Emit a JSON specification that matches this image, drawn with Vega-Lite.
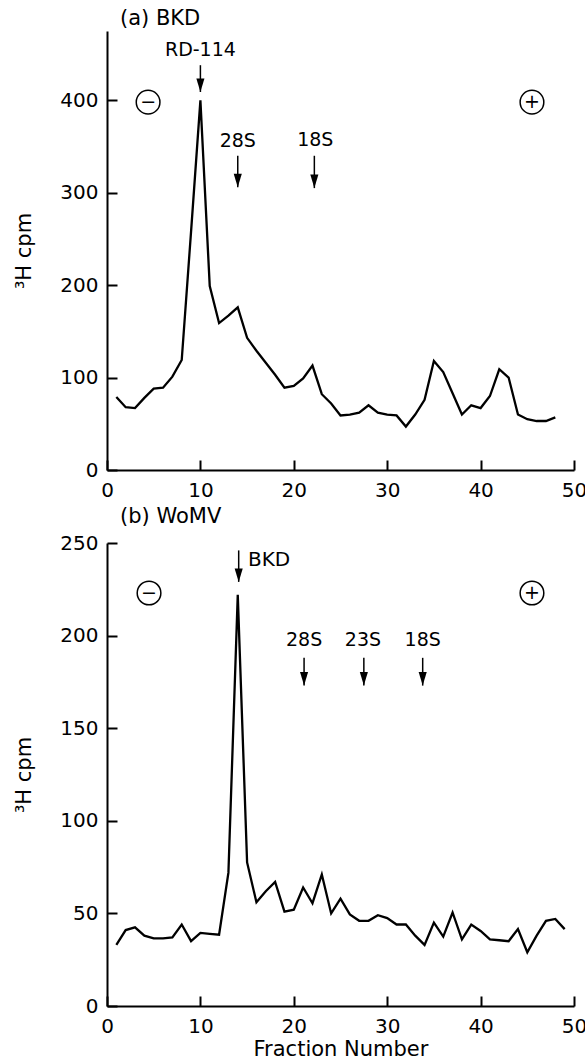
{
  "$schema": "https://vega.github.io/schema/vega-lite/v6.json",
  "background": "white",
  "padding": {"left": 13, "top": 8, "right": 0, "bottom": 0},
  "spacing": 6,
  "config": {
    "view": {"stroke": null},
    "font": "DejaVu Sans",
    "axis": {
      "grid": false,
      "domainColor": "black",
      "domainWidth": 2,
      "tickColor": "black",
      "tickWidth": 2,
      "labelFlush": false,
      "labelFont": "DejaVu Sans",
      "labelFontSize": 20,
      "labelColor": "black",
      "titleFont": "DejaVu Sans",
      "titleFontSize": 21,
      "titleFontWeight": "normal",
      "titleColor": "black"
    },
    "title": {"font": "DejaVu Sans", "fontSize": 21, "fontWeight": "normal", "color": "black", "anchor": "start", "frame": "group"}
  },
  "datasets": {
    "a_line": [
      {"frac": 1, "cpm": 79}, {"frac": 2, "cpm": 68}, {"frac": 3, "cpm": 67}, {"frac": 4, "cpm": 78},
      {"frac": 5, "cpm": 88}, {"frac": 6, "cpm": 89}, {"frac": 7, "cpm": 101}, {"frac": 8, "cpm": 119},
      {"frac": 9, "cpm": 258}, {"frac": 10, "cpm": 400}, {"frac": 11, "cpm": 199}, {"frac": 12, "cpm": 159},
      {"frac": 13, "cpm": 167}, {"frac": 14, "cpm": 176}, {"frac": 15, "cpm": 143}, {"frac": 16, "cpm": 129},
      {"frac": 17, "cpm": 116}, {"frac": 18, "cpm": 103}, {"frac": 19, "cpm": 89}, {"frac": 20, "cpm": 91},
      {"frac": 21, "cpm": 99}, {"frac": 22, "cpm": 113}, {"frac": 23, "cpm": 82}, {"frac": 24, "cpm": 72},
      {"frac": 25, "cpm": 59}, {"frac": 26, "cpm": 60}, {"frac": 27, "cpm": 62}, {"frac": 28, "cpm": 70},
      {"frac": 29, "cpm": 62}, {"frac": 30, "cpm": 60}, {"frac": 31, "cpm": 59}, {"frac": 32, "cpm": 47},
      {"frac": 33, "cpm": 60}, {"frac": 34, "cpm": 76}, {"frac": 35, "cpm": 118}, {"frac": 36, "cpm": 106},
      {"frac": 37, "cpm": 83}, {"frac": 38, "cpm": 60}, {"frac": 39, "cpm": 70}, {"frac": 40, "cpm": 67},
      {"frac": 41, "cpm": 80}, {"frac": 42, "cpm": 109}, {"frac": 43, "cpm": 100}, {"frac": 44, "cpm": 60},
      {"frac": 45, "cpm": 55}, {"frac": 46, "cpm": 53}, {"frac": 47, "cpm": 53}, {"frac": 48, "cpm": 57}
    ],
    "b_line": [
      {"frac": 1, "cpm": 33}, {"frac": 2, "cpm": 41}, {"frac": 3, "cpm": 42.5}, {"frac": 4, "cpm": 38},
      {"frac": 5, "cpm": 36.5}, {"frac": 6, "cpm": 36.5}, {"frac": 7, "cpm": 37}, {"frac": 8, "cpm": 44},
      {"frac": 9, "cpm": 35}, {"frac": 10, "cpm": 39.5}, {"frac": 11, "cpm": 39}, {"frac": 12, "cpm": 38.5},
      {"frac": 13, "cpm": 72}, {"frac": 14, "cpm": 222}, {"frac": 15, "cpm": 77.5}, {"frac": 16, "cpm": 56},
      {"frac": 17, "cpm": 62}, {"frac": 18, "cpm": 67}, {"frac": 19, "cpm": 51}, {"frac": 20, "cpm": 52},
      {"frac": 21, "cpm": 64}, {"frac": 22, "cpm": 55.5}, {"frac": 23, "cpm": 71}, {"frac": 24, "cpm": 50},
      {"frac": 25, "cpm": 58}, {"frac": 26, "cpm": 49.5}, {"frac": 27, "cpm": 46}, {"frac": 28, "cpm": 46},
      {"frac": 29, "cpm": 49}, {"frac": 30, "cpm": 47.5}, {"frac": 31, "cpm": 44}, {"frac": 32, "cpm": 44},
      {"frac": 33, "cpm": 38}, {"frac": 34, "cpm": 33}, {"frac": 35, "cpm": 45}, {"frac": 36, "cpm": 37.5},
      {"frac": 37, "cpm": 50.5}, {"frac": 38, "cpm": 36}, {"frac": 39, "cpm": 44}, {"frac": 40, "cpm": 40.5},
      {"frac": 41, "cpm": 36}, {"frac": 42, "cpm": 35.5}, {"frac": 43, "cpm": 35}, {"frac": 44, "cpm": 41.5},
      {"frac": 45, "cpm": 29}, {"frac": 46, "cpm": 38}, {"frac": 47, "cpm": 46}, {"frac": 48, "cpm": 47},
      {"frac": 49, "cpm": 41.5}
    ],
    "a_arrows": [
      {"frac": 10, "top": 438, "tip": 409},
      {"frac": 14, "top": 340, "tip": 306},
      {"frac": 22.2, "top": 340, "tip": 305}
    ],
    "a_text": [
      {"frac": 10, "cpm": 454, "label": "RD-114"},
      {"frac": 14, "cpm": 356, "label": "28S"},
      {"frac": 22.3, "cpm": 357, "label": "18S"}
    ],
    "a_signs": [
      {"frac": 4.4, "cpm": 398, "sign": "−"},
      {"frac": 45.5, "cpm": 398, "sign": "+"}
    ],
    "b_arrows": [
      {"frac": 14.1, "top": 246, "tip": 229},
      {"frac": 21.1, "top": 188, "tip": 173},
      {"frac": 27.5, "top": 188, "tip": 173},
      {"frac": 33.8, "top": 188, "tip": 173}
    ],
    "b_text": [
      {"frac": 21.1, "cpm": 197.5, "label": "28S"},
      {"frac": 27.4, "cpm": 197.5, "label": "23S"},
      {"frac": 33.8, "cpm": 197.5, "label": "18S"}
    ],
    "b_text_left": [
      {"frac": 15.1, "cpm": 241, "label": "BKD"}
    ],
    "b_signs": [
      {"frac": 4.5, "cpm": 223, "sign": "−"},
      {"frac": 45.5, "cpm": 223, "sign": "+"}
    ]
  },
  "vconcat": [
    {
      "width": 467,
      "height": 439,
      "title": {"text": "(a) BKD", "dx": 13, "offset": 2},
      "layer": [
        {
          "data": {"name": "a_line"},
          "mark": {"type": "line", "color": "black", "strokeWidth": 2.3},
          "encoding": {
            "x": {"field": "frac", "type": "quantitative", "scale": {"domain": [0, 50], "nice": false},
                  "axis": {"values": [0, 10, 20, 30, 40, 50], "title": null, "tickSize": -10, "labelPadding": 20}},
            "y": {"field": "cpm", "type": "quantitative", "scale": {"domain": [0, 475], "nice": false},
                  "axis": {"values": [0, 100, 200, 300, 400], "title": "³H cpm", "tickSize": -10, "labelPadding": 19, "titlePadding": 25}}
          }
        },
        {
          "data": {"name": "a_arrows"},
          "mark": {"type": "rule", "color": "black", "strokeWidth": 1.5},
          "encoding": {
            "x": {"field": "frac", "type": "quantitative"},
            "y": {"field": "top", "type": "quantitative"},
            "y2": {"field": "tip"}
          }
        },
        {
          "data": {"name": "a_arrows"},
          "mark": {"type": "point", "shape": "M-0.3,-1L0.3,-1L0,0Z", "filled": true, "color": "black", "size": 729, "opacity": 1},
          "encoding": {
            "x": {"field": "frac", "type": "quantitative"},
            "y": {"field": "tip", "type": "quantitative"}
          }
        },
        {
          "data": {"name": "a_text"},
          "mark": {"type": "text", "fontSize": 19, "color": "black", "align": "center", "baseline": "middle"},
          "encoding": {
            "x": {"field": "frac", "type": "quantitative"},
            "y": {"field": "cpm", "type": "quantitative"},
            "text": {"field": "label"}
          }
        },
        {
          "data": {"name": "a_signs"},
          "mark": {"type": "point", "shape": "circle", "filled": false, "color": "black", "strokeWidth": 1.5, "size": 560, "opacity": 1},
          "encoding": {
            "x": {"field": "frac", "type": "quantitative"},
            "y": {"field": "cpm", "type": "quantitative"}
          }
        },
        {
          "data": {"name": "a_signs"},
          "mark": {"type": "text", "fontSize": 19, "color": "black", "align": "center", "baseline": "middle"},
          "encoding": {
            "x": {"field": "frac", "type": "quantitative"},
            "y": {"field": "cpm", "type": "quantitative"},
            "text": {"field": "sign"}
          }
        }
      ]
    },
    {
      "width": 467,
      "height": 463,
      "title": {"text": "(b) WoMV", "dx": 13, "offset": 6},
      "layer": [
        {
          "data": {"name": "b_line"},
          "mark": {"type": "line", "color": "black", "strokeWidth": 2.3},
          "encoding": {
            "x": {"field": "frac", "type": "quantitative", "scale": {"domain": [0, 50], "nice": false},
                  "axis": {"values": [0, 10, 20, 30, 40, 50], "title": "Fraction Number", "tickSize": -10, "labelPadding": 20, "titlePadding": 2}},
            "y": {"field": "cpm", "type": "quantitative", "scale": {"domain": [0, 250], "nice": false},
                  "axis": {"values": [0, 50, 100, 150, 200, 250], "title": "³H cpm", "tickSize": -10, "labelPadding": 19, "titlePadding": 25}}
          }
        },
        {
          "data": {"name": "b_arrows"},
          "mark": {"type": "rule", "color": "black", "strokeWidth": 1.5},
          "encoding": {
            "x": {"field": "frac", "type": "quantitative"},
            "y": {"field": "top", "type": "quantitative"},
            "y2": {"field": "tip"}
          }
        },
        {
          "data": {"name": "b_arrows"},
          "mark": {"type": "point", "shape": "M-0.3,-1L0.3,-1L0,0Z", "filled": true, "color": "black", "size": 729, "opacity": 1},
          "encoding": {
            "x": {"field": "frac", "type": "quantitative"},
            "y": {"field": "tip", "type": "quantitative"}
          }
        },
        {
          "data": {"name": "b_text"},
          "mark": {"type": "text", "fontSize": 19, "color": "black", "align": "center", "baseline": "middle"},
          "encoding": {
            "x": {"field": "frac", "type": "quantitative"},
            "y": {"field": "cpm", "type": "quantitative"},
            "text": {"field": "label"}
          }
        },
        {
          "data": {"name": "b_text_left"},
          "mark": {"type": "text", "fontSize": 20, "color": "black", "align": "left", "baseline": "middle"},
          "encoding": {
            "x": {"field": "frac", "type": "quantitative"},
            "y": {"field": "cpm", "type": "quantitative"},
            "text": {"field": "label"}
          }
        },
        {
          "data": {"name": "b_signs"},
          "mark": {"type": "point", "shape": "circle", "filled": false, "color": "black", "strokeWidth": 1.5, "size": 560, "opacity": 1},
          "encoding": {
            "x": {"field": "frac", "type": "quantitative"},
            "y": {"field": "cpm", "type": "quantitative"}
          }
        },
        {
          "data": {"name": "b_signs"},
          "mark": {"type": "text", "fontSize": 19, "color": "black", "align": "center", "baseline": "middle"},
          "encoding": {
            "x": {"field": "frac", "type": "quantitative"},
            "y": {"field": "cpm", "type": "quantitative"},
            "text": {"field": "sign"}
          }
        }
      ]
    }
  ]
}
